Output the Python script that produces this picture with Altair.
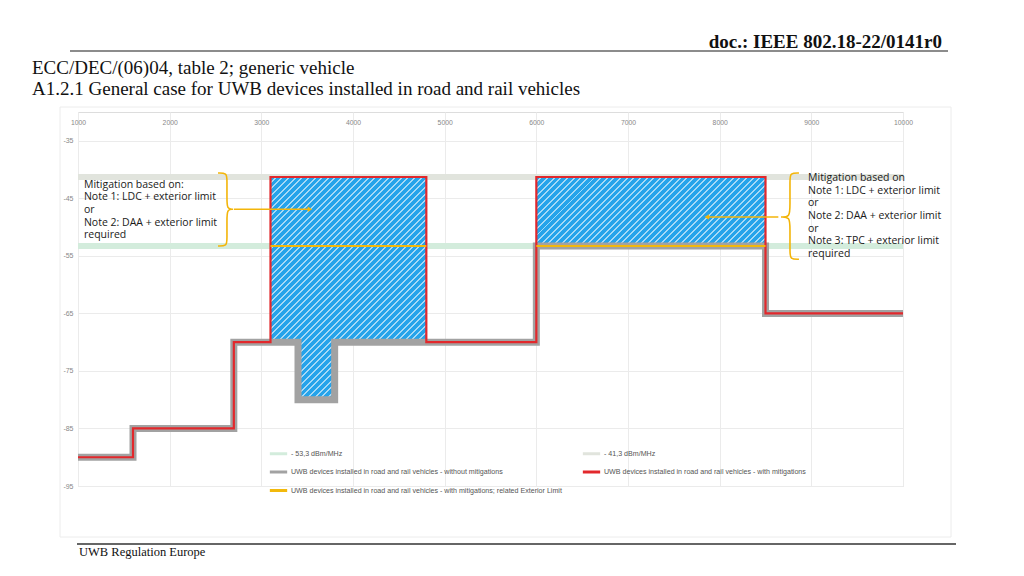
import altair as alt
import pandas as pd

# ---------------- data ----------------
gray_freq = [1000, 1600, 2700, 3400, 3800, 6000, 8500, 10000]
gray_level = [-90, -85, -70, -80, -70, -53.3, -65, -65]
red_freq = [1000, 1600, 2700, 3100, 4800, 6000, 8500, 10000]
red_level = [-90, -85, -70, -41.3, -70, -41.3, -65, -65]
ext_start = [3100, 6000]
ext_end = [4800, 8500]
ext_level = [-53.3, -53.3]
band_levels = [-53.3, -41.3]
band_names = ["- 53,3 dBm/MHz", "- 41,3 dBm/MHz"]
S_WITHOUT = "UWB devices installed in road and rail vehicles - without mitigations"
S_WITH = "UWB devices installed in road and rail vehicles - with mitigations"
S_EXT = "UWB devices installed in road and rail vehicles - with mitigations; related Exterior Limit"
x_ticks = [1000, 2000, 3000, 4000, 5000, 6000, 7000, 8000, 9000, 10000]
y_ticks = [-35, -45, -55, -65, -75, -85, -95]
x_domain = [1000, 10000]
y_domain = [-95, -30]

note_left = ["Mitigation based on:", "Note 1: LDC + exterior limit", "or",
             "Note 2: DAA + exterior limit", "required"]
note_right = ["Mitigation based on", "Note 1: LDC + exterior limit", "or",
              "Note 2: DAA + exterior limit", "or", "Note 3: TPC + exterior limit", "required"]
# annotation anchors (data units: MHz, dBm/MHz)
note_left_pos = (1065, -41.75)
note_right_pos = (8964, -40.6)
brace_left = dict(end=2527, spine=2625, tip=2691, top=-40.6, bot=-53.3, mid=-46.9)
brace_right = dict(end=8865, spine=8767, tip=8669, top=-40.6, bot=-55.6, mid=-48.25)
arrow_left = (2700, 3530, -46.9)
arrow_right = (8640, 7860, -48.25)

# ---------------- layout ----------------
W, H = 825, 374
XS = W / (x_domain[1] - x_domain[0])
YS = H / (y_domain[1] - y_domain[0])

# legend order (filled column by column): col 1 = 53,3 / without / exterior, col 2 = 41,3 / with
domain = [band_names[0], S_WITHOUT, S_EXT, band_names[1], S_WITH]
colors = ["#d3ecdc", "#a2a2a2", "#f2b90c", "#e1e4dd", "#e2282c"]
YELLOW = "#f3b50a"

color_enc = alt.Color(
    "series:N",
    scale=alt.Scale(domain=domain, range=colors),
    legend=alt.Legend(
        title=None, orient="none", legendX=190, legendY=331, columns=2,
        columnPadding=14, rowPadding=1.5, symbolType="stroke", symbolStrokeWidth=3,
        symbolSize=300, labelFontSize=7.1, labelLimit=600, labelColor="#555",
        labelFont="Liberation Sans", labelOffset=2, padding=0,
    ),
)
xs = alt.Scale(domain=x_domain, nice=False, zero=False)
ys = alt.Scale(domain=y_domain, nice=False, zero=False)


def step_val(fx, fy, x):
    v = fy[0]
    for a, b in zip(fx, fy):
        if a <= x:
            v = b
    return v


# fill regions where mitigated limit exceeds unmitigated
bps = sorted(set(gray_freq) | set(red_freq))
regions, cur = [], []
for i, b in enumerate(bps[:-1]):
    top = step_val(red_freq, red_level, b)
    bot = step_val(gray_freq, gray_level, b)
    if top > bot:
        cur.append((b, top, bot))
    elif cur:
        cur.append((b, cur[-1][1], cur[-1][2]))
        regions.append(cur)
        cur = []
if cur:
    cur.append((bps[-1], cur[-1][1], cur[-1][2]))
    regions.append(cur)


def stripes(w, h, period=6.6, frac=0.3, base="#25a3ea", light="#a6d9f6"):
    k = (w + h) * w / (w ** 2 + h ** 2)
    n = max(1, int(round((w + h) / period)))
    stops = []
    for i in range(n):
        a, b, c = i / n, (i + 1 - frac) / n, (i + 1) / n
        stops += [alt.GradientStop(offset=a, color=base), alt.GradientStop(offset=b, color=base),
                  alt.GradientStop(offset=b, color=light), alt.GradientStop(offset=c, color=light)]
    return alt.LinearGradient(gradient="linear", stops=stops, x1=0, y1=0, x2=k, y2=k * h / w)


layers = []

# reference bands
band_df = pd.DataFrame({"series": band_names, "y": band_levels,
                        "x0": [x_domain[0]] * 2, "x1": [x_domain[1]] * 2})
layers.append(alt.Chart(band_df).mark_rule(strokeWidth=6).encode(
    x=alt.X("x0:Q", scale=xs, axis=alt.Axis(
        orient="top", values=x_ticks, ticks=False, domain=False, labelPadding=-13,
        labelFlush=False, labelOverlap=False, labelFontSize=6.8, labelColor="#888",
        gridColor="#ebebeb", title=None, labelFont="Liberation Sans",
        labelExpr="'' + datum.value")),
    x2="x1:Q",
    y=alt.Y("y:Q", scale=ys, axis=alt.Axis(
        values=y_ticks, ticks=False, domain=False, labelPadding=5, labelFontSize=7,
        labelColor="#888", gridColor="#ebebeb", title=None, labelExpr="'' + datum.value",
        labelFont="Liberation Sans")),
    color=color_enc,
))

# hatched fill regions
for reg in regions:
    rdf = pd.DataFrame(reg, columns=["f", "top", "bot"])
    w = (rdf.f.max() - rdf.f.min()) * XS
    h = (rdf.top.max() - rdf.bot.min()) * YS
    layers.append(alt.Chart(rdf).mark_area(interpolate="step-after", fill=stripes(w, h)).encode(
        x=alt.X("f:Q", scale=xs), y=alt.Y("top:Q", scale=ys), y2="bot:Q"))

gray_df = pd.DataFrame({"f": gray_freq, "v": gray_level, "series": S_WITHOUT})
red_df = pd.DataFrame({"f": red_freq, "v": red_level, "series": S_WITH})
layers.append(alt.Chart(gray_df).mark_line(interpolate="step-after", strokeWidth=7, strokeJoin="miter").encode(
    x=alt.X("f:Q", scale=xs), y=alt.Y("v:Q", scale=ys), color=color_enc))
layers.append(alt.Chart(red_df).mark_line(interpolate="step-after", strokeWidth=2.2, strokeJoin="miter").encode(
    x=alt.X("f:Q", scale=xs), y=alt.Y("v:Q", scale=ys), color=color_enc))
ext_df = pd.DataFrame({"x0": ext_start, "x1": ext_end, "y": ext_level, "series": S_EXT})
layers.append(alt.Chart(ext_df).mark_rule(strokeWidth=2).encode(
    x=alt.X("x0:Q", scale=xs), x2="x1:Q", y=alt.Y("y:Q", scale=ys), color=color_enc))


# annotations: braces, arrows, notes
def brace_df(b):
    r = 1.2 if b["top"] > b["bot"] else -1.2
    pts = [(b["end"], b["top"]), (b["spine"], b["top"]), (b["spine"], b["top"] - r),
           (b["spine"], b["mid"] + 1.6 * r), (b["spine"], b["mid"]),
           (b["tip"], b["mid"]), (b["tip"], b["mid"]), (b["tip"], b["mid"]),
           (b["spine"], b["mid"]), (b["spine"], b["mid"] - 1.6 * r),
           (b["spine"], b["bot"] + r), (b["spine"], b["bot"]), (b["end"], b["bot"])]
    return pd.DataFrame({"i": range(len(pts)), "f": [p[0] for p in pts], "v": [p[1] for p in pts]})


for b in (brace_left, brace_right):
    layers.append(alt.Chart(brace_df(b)).mark_line(interpolate="basis", color=YELLOW, strokeWidth=1.6).encode(
        x=alt.X("f:Q", scale=xs), y=alt.Y("v:Q", scale=ys), order="i:Q"))

for (a0, a1, yv), shape in ((arrow_left, "triangle-right"), (arrow_right, "triangle-left")):
    adf = pd.DataFrame({"f": [a0], "f2": [a1], "v": [yv]})
    layers.append(alt.Chart(adf).mark_rule(color=YELLOW, strokeWidth=1.6).encode(
        x=alt.X("f:Q", scale=xs), x2="f2:Q", y=alt.Y("v:Q", scale=ys)))
    layers.append(alt.Chart(adf).mark_point(shape=shape, filled=True, color=YELLOW, size=28, opacity=1).encode(
        x=alt.X("f2:Q", scale=xs), y=alt.Y("v:Q", scale=ys)))

one = pd.DataFrame({"k": [0]})
for lines, (px, py) in ((note_left, note_left_pos), (note_right, note_right_pos)):
    layers.append(alt.Chart(one).mark_text(
        text="\n".join(lines), lineBreak="\n", lineHeight=12.7, align="left", baseline="top",
        font="Open Sans", fontSize=10.5, color="#1a1a1a").encode(
        x=alt.datum(px, scale=xs), y=alt.datum(py, scale=ys)))


# page decorations (pixel positions relative to the plot origin)
def deco_text(txt, x, y, size, weight="normal", align="left"):
    return alt.Chart(one).mark_text(
        text=txt, align=align, baseline="middle", font="Liberation Serif",
        fontSize=size, fontWeight=weight, color="#111").encode(x=alt.value(x), y=alt.value(y))


def deco_rule(x, x2, y, color, width):
    return alt.Chart(one).mark_rule(color=color, strokeWidth=width).encode(
        x=alt.value(x), x2=alt.value(x2), y=alt.value(y))


layers.append(alt.Chart(one).mark_rect(fill="transparent", stroke="#ececec", strokeWidth=1).encode(
    x=alt.value(-18), x2=alt.value(873), y=alt.value(-5), y2=alt.value(425)))
layers.append(deco_text("doc.: IEEE 802.18-22/0141r0", 864, -70, 19, "bold", "right"))
layers.append(deco_rule(-8, 870, -61, "#666", 1.5))
layers.append(deco_text("ECC/DEC/(06)04, table 2; generic vehicle", -46, -44, 19))
layers.append(deco_text("A1.2.1 General case for UWB devices installed in road and rail vehicles", -46, -23, 19))
layers.append(deco_rule(-1, 878, 432, "#666", 2))
layers.append(deco_text("UWB Regulation Europe", 1, 440, 12.5))

chart = alt.layer(*layers).properties(
    width=W, height=H, autosize="none",
    padding={"left": 70, "top": 104, "right": 100, "bottom": 82},
).configure_view(stroke="#e2e2e2").configure(background="white")

chart.save("out.html", embed_options={"renderer": "svg", "actions": False})
